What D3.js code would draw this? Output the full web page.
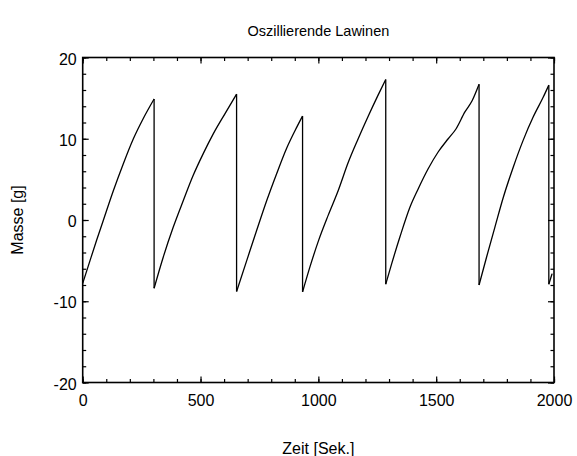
<!DOCTYPE html>
<html>
<head>
<meta charset="utf-8">
<script src="https://cdn.jsdelivr.net/npm/d3@7"></script>
<style>
  html, body { margin: 0; padding: 0; background: #fff; }
  text { font-family: "Liberation Sans", Arial, Helvetica, sans-serif; fill: #000; }
</style>
</head>
<body>
<svg id="chart" width="577" height="456"></svg>
<script>
// ---- Data ----
const title = "Oszillierende Lawinen";
const xTitle = "Zeit [Sek.]";
const yTitle = "Masse [g]";

const zeit = [
  0, 31, 59, 88, 130, 172, 215, 257, 303,
  303, 342, 384, 427, 469, 512, 554, 604, 653,
  653, 696, 738, 781, 823, 865, 908, 933,
  933, 964, 1000, 1042, 1084, 1127, 1169, 1212, 1254, 1286,
  1286, 1311, 1346, 1389, 1424, 1466, 1509, 1551, 1584, 1622, 1653, 1682,
  1682, 1714, 1749, 1785, 1827, 1869, 1912, 1954, 1978,
  1978, 1992
];
const masse = [
  -7.8, -5.0, -2.5, 0.0, 3.6, 6.9, 10.0, 12.5, 14.9,
  -8.4, -4.55, -0.9, 2.4, 5.5, 8.2, 10.6, 13.1, 15.5,
  -8.8, -5.0, -1.3, 2.4, 5.7, 8.8, 11.4, 12.8,
  -8.85, -5.8, -2.6, 0.6, 3.6, 7.1, 10.0, 12.8, 15.4, 17.3,
  -7.9, -5.4, -2.1, 1.6, 3.85, 6.3, 8.4, 10.0, 11.2, 13.3, 14.7, 16.7,
  -8.0, -4.55, -0.9, 2.8, 6.5, 9.8, 12.7, 15.1, 16.6,
  -7.9, -6.6
];

const xDomain = [0, 2000];
const yDomain = [-20, 20];
const xMajorTicks = [0, 500, 1000, 1500, 2000];
const yMajorTicks = [-20, -10, 0, 10, 20];
const xMinorTicks = d3.range(0, 2001, 100);
const yMinorTicks = d3.range(-20, 21, 2);

// ---- Layout ----
const margin = { left: 82.7, right: 554, top: 57.5, bottom: 382.5 };
const svg = d3.select("#chart");

const x = d3.scaleLinear().domain(xDomain).range([margin.left, margin.right]);
const y = d3.scaleLinear().domain(yDomain).range([margin.bottom, margin.top]);

const majorLen = 6, minorLen = 3.5;
const fontSize = 16;
const plainFmt = d => String(d);

function styleAxis(g) {
  g.select(".domain").remove();
  g.selectAll(".tick line").attr("stroke", "#000").attr("stroke-width", 1.2);
  g.selectAll("text").attr("font-size", fontSize).attr("font-family", "Liberation Sans, Arial, sans-serif").attr("fill", "#000");
}

// minor ticks (all four sides)
svg.append("g").attr("transform", `translate(0,${margin.bottom})`)
  .call(d3.axisBottom(x).tickValues(xMinorTicks).tickSize(-minorLen).tickFormat(""))
  .call(styleAxis);
svg.append("g").attr("transform", `translate(0,${margin.top})`)
  .call(d3.axisTop(x).tickValues(xMinorTicks).tickSize(-minorLen).tickFormat(""))
  .call(styleAxis);
svg.append("g").attr("transform", `translate(${margin.left},0)`)
  .call(d3.axisLeft(y).tickValues(yMinorTicks).tickSize(-minorLen).tickFormat(""))
  .call(styleAxis);
svg.append("g").attr("transform", `translate(${margin.right},0)`)
  .call(d3.axisRight(y).tickValues(yMinorTicks).tickSize(-minorLen).tickFormat(""))
  .call(styleAxis);

// major ticks with labels (bottom / left), without labels (top / right)
svg.append("g").attr("transform", `translate(0,${margin.bottom})`)
  .call(d3.axisBottom(x).tickValues(xMajorTicks).tickSize(-majorLen).tickPadding(12).tickFormat(plainFmt))
  .call(styleAxis);
svg.append("g").attr("transform", `translate(0,${margin.top})`)
  .call(d3.axisTop(x).tickValues(xMajorTicks).tickSize(-majorLen).tickFormat(""))
  .call(styleAxis);
svg.append("g").attr("transform", `translate(${margin.left},0)`)
  .call(d3.axisLeft(y).tickValues(yMajorTicks).tickSize(-majorLen).tickPadding(6).tickFormat(plainFmt))
  .call(styleAxis)
  .call(g => g.selectAll("text").attr("dy", "0.42em"));
svg.append("g").attr("transform", `translate(${margin.right},0)`)
  .call(d3.axisRight(y).tickValues(yMajorTicks).tickSize(-majorLen).tickFormat(""))
  .call(styleAxis);

// frame
svg.append("rect")
  .attr("x", margin.left).attr("y", margin.top)
  .attr("width", margin.right - margin.left).attr("height", margin.bottom - margin.top)
  .attr("fill", "none").attr("stroke", "#000").attr("stroke-width", 1.6);

// ---- Data line: rising runs drawn smoothly, drops drawn straight ----
const pts = zeit.map((t, i) => [t, masse[i]]);
const segments = [];
let cur = [pts[0]];
for (let i = 1; i < pts.length; i++) {
  if (pts[i][1] < pts[i - 1][1] - 3) { segments.push(cur); cur = [pts[i]]; }
  else cur.push(pts[i]);
}
segments.push(cur);

const line = d3.line().x(d => x(d[0])).y(d => y(d[1])).curve(d3.curveMonotoneX);
const plot = svg.append("g");
segments.forEach(seg => {
  plot.append("path").attr("d", line(seg))
    .attr("fill", "none").attr("stroke", "#000").attr("stroke-width", 1.3)
    .attr("stroke-linejoin", "round");
});
for (let i = 1; i < segments.length; i++) {
  const a = segments[i - 1][segments[i - 1].length - 1];
  const b = segments[i][0];
  plot.append("line")
    .attr("x1", x(a[0])).attr("y1", y(a[1])).attr("x2", x(b[0])).attr("y2", y(b[1]))
    .attr("stroke", "#000").attr("stroke-width", 1.3);
}

// ---- Titles ----
svg.append("text").attr("x", (margin.left + margin.right) / 2).attr("y", 36)
  .attr("text-anchor", "middle").attr("font-size", 14.5).text(title);
svg.append("text").attr("x", (margin.left + margin.right) / 2).attr("y", 454)
  .attr("text-anchor", "middle").attr("font-size", fontSize).text(xTitle);
svg.append("text").attr("transform", `translate(23,${(margin.top + margin.bottom) / 2}) rotate(-90)`)
  .attr("text-anchor", "middle").attr("font-size", fontSize).text(yTitle);
</script>
</body>
</html>
